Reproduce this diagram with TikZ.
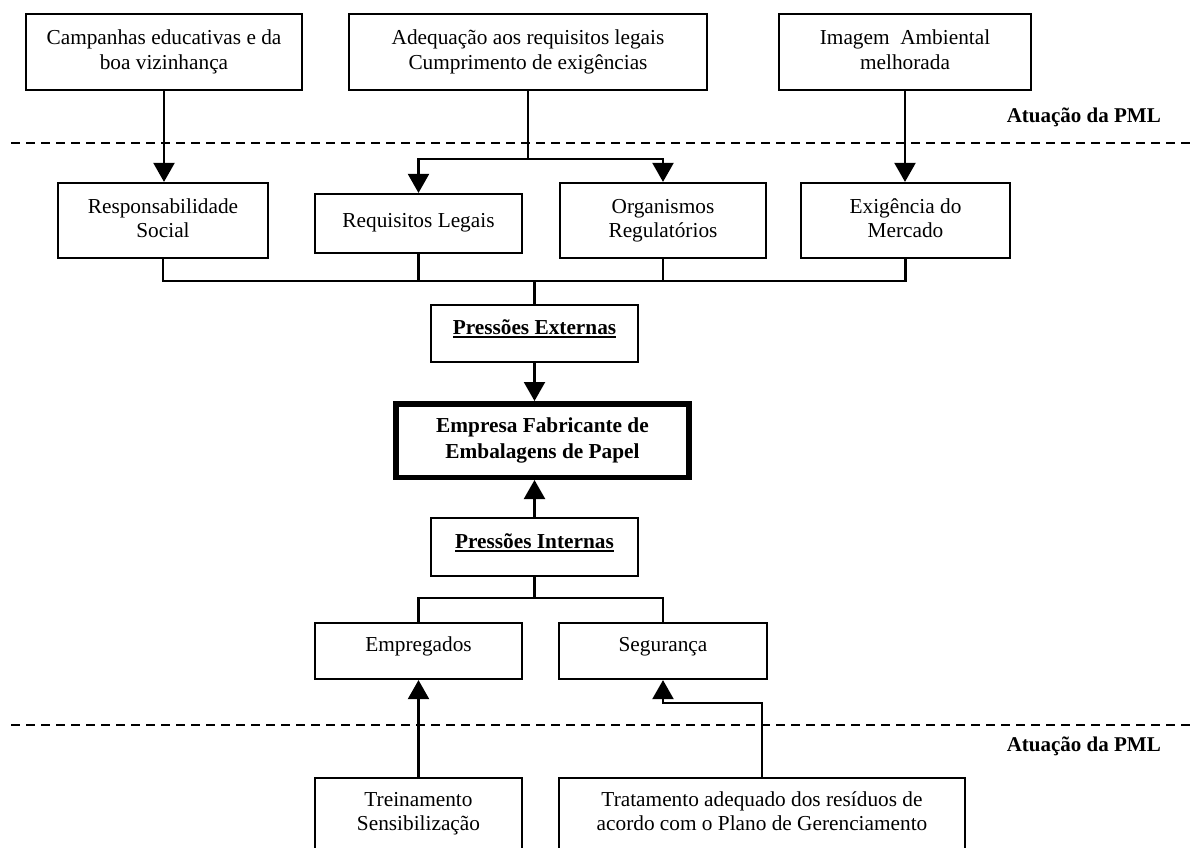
\documentclass[tikz,border=0pt]{standalone}
\usepackage{fontspec}
\setmainfont{Liberation Serif}
\usetikzlibrary{arrows.meta}

% bold heading with a rule under it
\newcommand{\titulo}[1]{\setbox0\hbox{\bfseries #1}\rlap{\raisebox{-3.5pt}{\rule{\wd0}{1.6pt}}}\box0}

\tikzset{
  txt/.style={font=\fontsize{21.3}{24.5}\selectfont},
  box/.style={txt, draw, line width=2.2pt, inner sep=0pt, align=center},
  onebox/.style={txt, draw, line width=2.2pt, inner sep=0pt,
                 text height=15pt, text depth=#1},
  onebox/.default=5pt,
  arr/.style={line width=2.2pt, -{Triangle[width=21pt,length=19pt]}},
  conn/.style={line width=2.2pt},
  divider/.style={line width=2pt, dash pattern=on 9pt off 6pt},
  lbl/.style={font=\fontsize{21}{24}\selectfont\bfseries, inner sep=0pt}
}

\begin{document}
\begin{tikzpicture}[x=1pt,y=-1pt]
\clip (0,0) rectangle (1194,847);
\fill[white] (0,0) rectangle (1194,847);

% upper row: actions of the programme
\node[box, minimum width=276, minimum height=76] (camp) at (164,52)
  {Campanhas educativas e da\strut\\boa vizinhança\strut};
\node[box, minimum width=358, minimum height=76] (adeq) at (528,52)
  {Adequação aos requisitos legais\strut\\Cumprimento de exigências\strut};
\node[box, minimum width=252, minimum height=76] (imag) at (905,52)
  {Imagem~ Ambiental\strut\\melhorada\strut};

% external pressures
\node[box, minimum width=210, minimum height=75] (resp) at (163,220.5)
  {Responsabilidade\strut\\Social\strut};
\node[onebox=8pt, minimum width=207, minimum height=59] (req) at (418.5,223.5)
  {Requisitos Legais};
\node[box, minimum width=206, minimum height=75] (org) at (663,220.5)
  {Organismos\strut\\Regulatórios\strut};
\node[box, minimum width=209, minimum height=75] (exig) at (905.5,220.5)
  {Exigência do\strut\\Mercado\strut};

\node[onebox=13pt, minimum width=207, minimum height=57] (pext) at (534.5,333.5)
  {\titulo{Pressões Externas}};

% the company
\node[txt, draw, line width=5.5pt, inner sep=0pt, align=center, font=\fontsize{21.3}{26}\selectfont\bfseries,
      minimum width=293, minimum height=73.5] (emp) at (542.5,440.5)
  {Empresa Fabricante de\strut\\Embalagens de Papel\strut};

\node[onebox=13pt, minimum width=207, minimum height=58] (pint) at (534.5,547)
  {\titulo{Pressões Internas}};

% internal pressures
\node[onebox=14pt, minimum width=207, minimum height=56] (empg) at (418.5,651)
  {Empregados};
\node[onebox=14pt, minimum width=208, minimum height=56] (seg) at (663,651)
  {Segurança};

% lower row: actions of the programme (boxes run past the lower edge)
\node[box, anchor=north, minimum width=207, inner ysep=11pt, text depth=60pt] (trein) at (418.5,777)
  {\strut Treinamento\\Sensibilização};
\node[box, anchor=north, minimum width=406, inner ysep=11pt, text depth=60pt] (trat) at (762,777)
  {\strut Tratamento adequado dos resíduos de\\acordo com o Plano de Gerenciamento};

% dividing lines and their labels
\coordinate (d1a) at (11,143);
\coordinate (d1b) at (1194,143);
\coordinate (d2a) at (11,725);
\coordinate (d2b) at (1194,725);
\draw[divider] (d1a) -- (d1b);
\draw[divider] (d2a) -- (d2b);
\node[lbl, anchor=east] (pml1) at (1161,117) {Atuação da PML};
\node[lbl, anchor=east] (pml2) at (1161,746) {Atuação da PML};

% connectors, top part
\draw[arr] (camp.south) -- (camp.south |- resp.north);
\coordinate (split1) at (528,159);
\draw[conn] (adeq.south) -- (split1);
\draw[arr] (split1) -| (req.north);
\draw[arr] (split1) -| (org.north);
\draw[arr] (imag.south) -- (imag.south |- exig.north);

\coordinate (bus) at (534.5,281);
\draw[conn] (resp.south) |- (bus) -| (exig.south);
\draw[conn] (req.south) -- (req.south |- bus);
\draw[conn] (org.south) -- (org.south |- bus);
\draw[conn] (bus) -- (pext.north);

\draw[arr] (pext.south) -- (pext.south |- emp.north);
\draw[arr] (pint.north) -- (pint.north |- emp.south);

% connectors, lower part
\coordinate (split2) at (534.5,598);
\draw[conn] (pint.south) -- (split2);
\draw[conn] (split2) -| (empg.north);
\draw[conn] (split2) -| (seg.north);

\draw[arr] (trein.north) -- (empg.south);
\coordinate (bend) at (663,703);
\draw[arr] (trat.north) |- (bend) -- (seg.south);
\end{tikzpicture}
\end{document}
